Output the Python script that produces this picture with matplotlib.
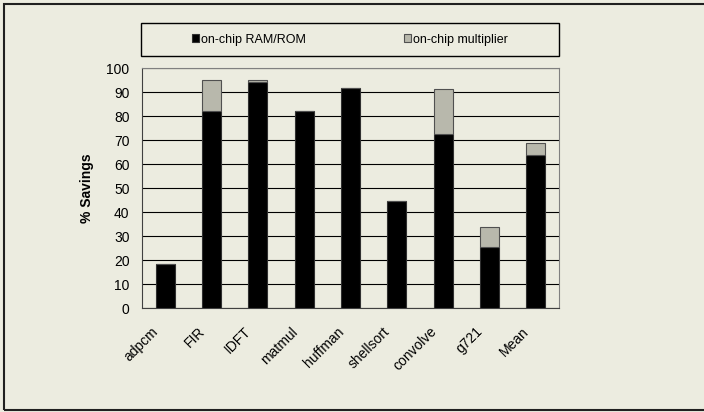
import matplotlib
matplotlib.use('Agg')
import matplotlib.pyplot as plt
import matplotlib.transforms as mtransforms
from matplotlib.patches import Rectangle

plt.rcParams['font.family'] = ['Liberation Sans', 'DejaVu Sans']

benchmarks = ['adpcm', 'FIR', 'IDFT', 'matmul', 'huffman', 'shellsort', 'convolve', 'g721', 'Mean']
ram_rom = [18.5, 82, 94, 82.2, 91.5, 44.6, 72.7, 25.5, 63.8]
multiplier = [0, 13.1, 0.8, 0, 0, 0, 18.4, 8.1, 5.1]

bg = '#ECECE0'
grey = '#B8B8AC'

fig = plt.figure(figsize=(7.04, 4.12), dpi=100, facecolor=bg)
# outer frame (right side runs off the picture)
fig.patches.append(Rectangle((4 / 704, 2 / 412), 1.2, 406 / 412, transform=fig.transFigure,
                             fill=False, edgecolor='#202020', linewidth=1.5))
# legend box
fig.patches.append(Rectangle((141 / 704, 1 - 56 / 412), 418 / 704, 33 / 412,
                             transform=fig.transFigure, fill=False,
                             edgecolor='black', linewidth=1.0))

ax = fig.add_axes([142 / 704, 1 - 308 / 412, 417 / 704, 240 / 412])
ax.set_facecolor(bg)

x = range(len(benchmarks))
ax.bar(x, ram_rom, width=0.41, color='black', edgecolor='#303030', linewidth=0.8,
       label='on-chip RAM/ROM', zorder=3)
ax.bar(x, multiplier, width=0.41, bottom=ram_rom, color=grey, edgecolor='#505050',
       linewidth=0.8, label='on-chip multiplier', zorder=3)

ax.set_ylim(0, 100)
ax.set_xlim(-0.5, len(benchmarks) - 0.5)
ax.set_yticks(range(0, 101, 10))
ax.yaxis.grid(True, color='black', linewidth=0.8, zorder=0)
ax.tick_params(axis='y', length=0, labelsize=10, pad=9)
ax.tick_params(axis='x', length=0, labelsize=10, pad=4)
ax.set_xticks(list(x))
ax.set_xticklabels(benchmarks, rotation=45, ha='right', rotation_mode='anchor')
shift = mtransforms.ScaledTranslation(-14 / 100, -11 / 100, fig.dpi_scale_trans)
for lbl in ax.get_xticklabels():
    lbl.set_transform(lbl.get_transform() + shift)
ax.set_ylabel('% Savings', fontsize=10, fontweight='bold', labelpad=9)

for side in ['top', 'right']:
    ax.spines[side].set_color('#808080')
ax.spines['left'].set_color('#404040')
ax.spines['bottom'].set_color('#404040')

leg = fig.legend(loc='center', bbox_to_anchor=(350 / 704, 1 - 39.5 / 412),
                 ncol=2, fontsize=9, frameon=False, columnspacing=7.8,
                 handlelength=0.56, handleheight=0.56, handletextpad=0.16,
                 borderaxespad=0)

fig.savefig('out.png', dpi=100, facecolor=bg)
